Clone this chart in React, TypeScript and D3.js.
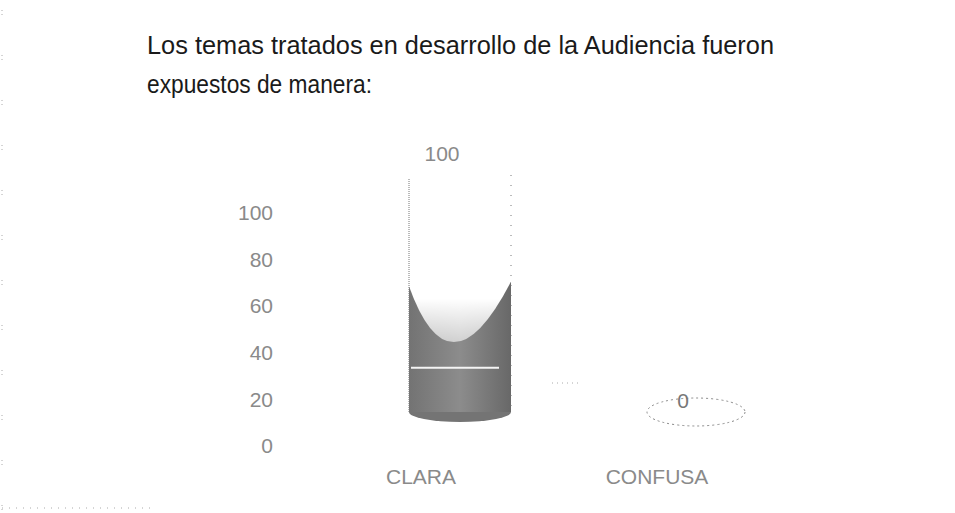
import React, { useEffect, useRef } from 'react';
import * as d3 from 'd3';

const categories = ['CLARA', 'CONFUSA'];
const values = [100, 0];
const yTicks = [0, 20, 40, 60, 80, 100];
const titleLines = [
  'Los temas tratados  en desarrollo de la Audiencia fueron',
  'expuestos de manera:',
];

const W = 955;
const H = 513;

const App = () => {
  const svgRef = useRef<SVGSVGElement>(null);

  useEffect(() => {
    const svg = d3.select(svgRef.current).attr('width', W).attr('height', H);
    svg.selectAll('*').remove();

    const xScale = d3.scaleBand().domain(categories).range([303, 775]).padding(0);
    const yScale = d3.scaleLinear().domain([0, 100]).range([446, 213]);

    // 3D depth offset of the bars
    const depthX = 39;
    const depthY = 34;
    const rx = 51;
    const ry = 10;

    // faint scanned frame
    svg.append('line')
      .attr('x1', 2).attr('x2', 2).attr('y1', 10).attr('y2', 510)
      .attr('stroke', '#aaa').attr('stroke-width', 1).attr('stroke-dasharray', '1,3,1,40');
    svg.append('line')
      .attr('x1', 2).attr('x2', 150).attr('y1', 508).attr('y2', 508)
      .attr('stroke', '#aaa').attr('stroke-width', 1).attr('stroke-dasharray', '1,6');

    // title
    svg.append('g').selectAll('text')
      .data(titleLines)
      .enter()
      .append('text')
      .attr('x', 147)
      .attr('y', (d, i) => 54 + i * 39)
      .attr('textLength', (d, i) => (i === 0 ? 627 : 225))
      .attr('lengthAdjust', 'spacingAndGlyphs')
      .style('font-family', '"Liberation Sans Narrow", "Liberation Sans", sans-serif')
      .style('font-size', '25px')
      .attr('fill', '#1a1a1a')
      .text((d) => d);

    // y axis tick labels
    const axis = d3.axisLeft(yScale).tickValues(yTicks).tickSize(0).tickPadding(0);
    const gy = svg.append('g').attr('transform', 'translate(273,0)').call(axis);
    gy.select('.domain').remove();
    gy.selectAll('text')
      .style('font-family', '"Liberation Sans Narrow", sans-serif')
      .style('font-size', '21px')
      .attr('fill', '#8a8a8a');

    // x axis category labels
    const gx = svg.append('g')
      .attr('transform', 'translate(0,477)')
      .call(d3.axisBottom(xScale).tickSize(0).tickPadding(0));
    gx.select('.domain').remove();
    gx.selectAll('text')
      .attr('dy', '0.35em')
      .style('font-family', '"Liberation Sans Narrow", sans-serif')
      .style('font-size', '21px')
      .attr('fill', '#8a8a8a');

    const defs = svg.append('defs');
    const grad = defs.append('linearGradient').attr('id', 'cylShade').attr('x1', 0).attr('x2', 1);
    grad.append('stop').attr('offset', '0%').attr('stop-color', '#737373');
    grad.append('stop').attr('offset', '50%').attr('stop-color', '#8c8c8c');
    grad.append('stop').attr('offset', '100%').attr('stop-color', '#686868');
    const fade = defs.append('linearGradient').attr('id', 'fadeTop').attr('x1', 0).attr('x2', 0).attr('y1', 0).attr('y2', 1);
    fade.append('stop').attr('offset', '0%').attr('stop-color', '#fff').attr('stop-opacity', 1);
    fade.append('stop').attr('offset', '75%').attr('stop-color', '#fff').attr('stop-opacity', 1);
    fade.append('stop').attr('offset', '100%').attr('stop-color', '#fff').attr('stop-opacity', 0.6);

    const bars = svg.append('g');
    categories.forEach((cat, i) => {
      const v = values[i];
      const cx = (xScale(cat) as number) + xScale.bandwidth() / 2 + depthX;
      const yb = yScale(0) - depthY;
      const yt = yScale(v) - depthY;
      const g = bars.append('g');

      if (v > 0) {
        const h = yb - yt;
        g.append('ellipse')
          .attr('cx', cx).attr('cy', yb).attr('rx', rx).attr('ry', ry)
          .attr('fill', '#747474');
        g.append('rect')
          .attr('x', cx - rx).attr('y', yt).attr('width', rx * 2).attr('height', h)
          .attr('fill', 'url(#cylShade)');

        // washed-out upper part with U-shaped boundary
        const wash = d3.path();
        wash.moveTo(cx - rx, yt - ry);
        wash.lineTo(cx - rx, yb - h * 0.54);
        wash.quadraticCurveTo(cx - rx * 0.2, yb - h * 0.05, cx + rx, yb - h * 0.56);
        wash.lineTo(cx + rx, yt - ry);
        wash.closePath();
        g.append('path').attr('d', wash.toString()).attr('fill', 'url(#fadeTop)');

        // light stripe
        g.append('line')
          .attr('x1', cx - rx + 2).attr('x2', cx + rx - 12)
          .attr('y1', yb - h * 0.19).attr('y2', yb - h * 0.19)
          .attr('stroke', '#f4f4f4').attr('stroke-width', 2);

        // dotted outline edges
        g.append('line')
          .attr('x1', cx - rx).attr('x2', cx - rx).attr('y1', yt).attr('y2', yb)
          .attr('stroke', '#777').attr('stroke-width', 1).attr('stroke-dasharray', '1,1');
        g.append('line')
          .attr('x1', cx + rx).attr('x2', cx + rx).attr('y1', yt - 4).attr('y2', yb)
          .attr('stroke', '#777').attr('stroke-width', 1).attr('stroke-dasharray', '1,9');

        g.append('text')
          .attr('x', cx - 18).attr('y', yt - 18)
          .attr('text-anchor', 'middle')
          .style('font-family', '"Liberation Sans Narrow", sans-serif')
          .style('font-size', '21px')
          .attr('fill', '#8a8a8a')
          .text(v);
      } else {
        g.append('ellipse')
          .attr('cx', cx).attr('cy', yt).attr('rx', rx - 2).attr('ry', ry + 4)
          .attr('fill', 'none')
          .attr('stroke', '#8a8a8a').attr('stroke-width', 1).attr('stroke-dasharray', '2,3');
        g.append('text')
          .attr('x', cx - 13).attr('y', yt - 4)
          .attr('text-anchor', 'middle')
          .style('font-family', '"Liberation Sans Narrow", sans-serif')
          .style('font-size', '21px')
          .attr('fill', '#777')
          .text(v);
      }
    });

    // faint floor edge marks
    svg.append('line')
      .attr('x1', 552).attr('x2', 580).attr('y1', 383).attr('y2', 383)
      .attr('stroke', '#aaa').attr('stroke-dasharray', '1,4');
  }, []);

  return (
    <div style={{ position: 'absolute', left: 0, top: 0 }}>
      <svg ref={svgRef} style={{ display: 'block', background: '#fff' }}></svg>
    </div>
  );
};

export default App;
